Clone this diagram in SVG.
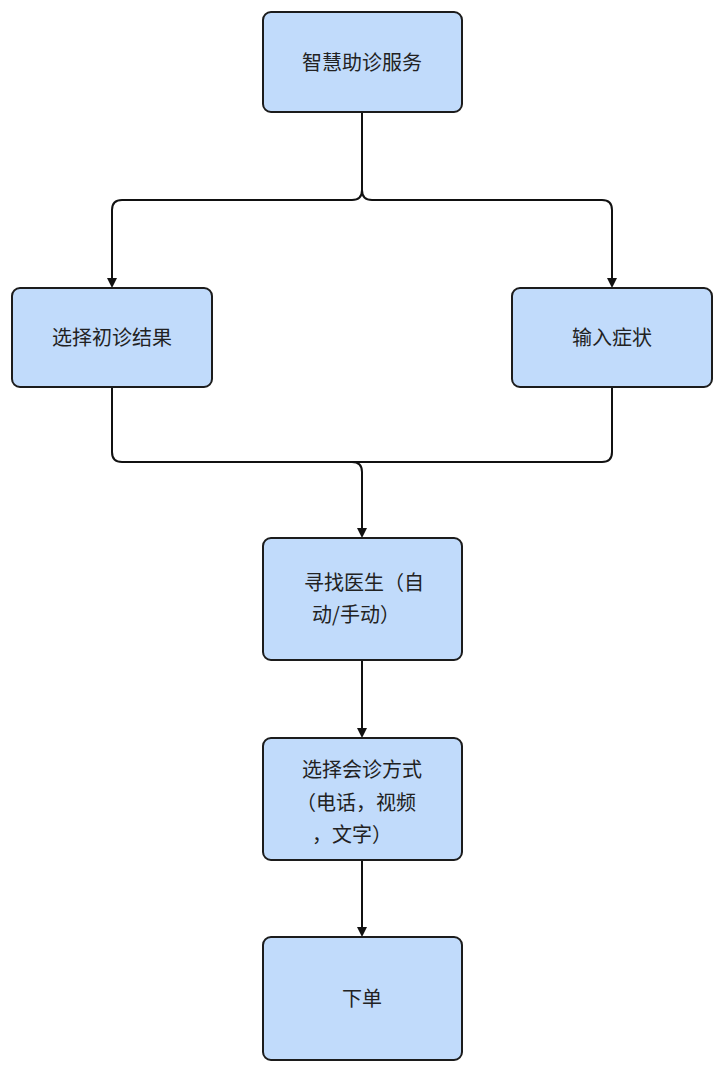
<svg xmlns="http://www.w3.org/2000/svg" width="725" height="1072" viewBox="0 0 725 1072">
<style>
.n{fill:#c1dbfb;stroke:#1c1c1c;stroke-width:2}
.t{font-family:"Noto Sans CJK SC","Noto Sans",sans-serif;font-size:20px;fill:#222;text-anchor:middle}
.c{fill:none;stroke:#111;stroke-width:2}
</style>
<defs><marker id="a" markerWidth="10" markerHeight="10" refX="8" refY="5" orient="auto" markerUnits="userSpaceOnUse"><path d="M0,0L10,5L0,10Z" fill="#111"/></marker></defs>
<rect width="725" height="1072" fill="#fff"/>
<g id="connectors">
<path class="c" d="M362,112V190Q362,200 352,200H122Q112,200 112,210V286" marker-end="url(#a)"/>
<path class="c" d="M362,190Q362,200 372,200H602Q612,200 612,210V286" marker-end="url(#a)"/>
<path class="c" d="M112,387V452Q112,462 122,462H602Q612,462 612,452V387"/>
<path class="c" d="M352,462Q362,462 362,472V536" marker-end="url(#a)"/>
<path class="c" d="M362,660V736" marker-end="url(#a)"/>
<path class="c" d="M362,860V935" marker-end="url(#a)"/>
</g>
<g id="n1"><rect class="n" x="263" y="12" width="199" height="100" rx="8"/><text class="t" x="362" y="70">智慧助诊服务</text></g>
<g id="n2"><rect class="n" x="12" y="288" width="200" height="99" rx="8"/><text class="t" x="112" y="345">选择初诊结果</text></g>
<g id="n3"><rect class="n" x="512" y="288" width="200" height="99" rx="8"/><text class="t" x="612" y="345">输入症状</text></g>
<g id="n4"><rect class="n" x="263" y="538" width="199" height="122" rx="8"/><text class="t" x="364" y="590">寻找医生（自</text><text class="t" x="356" y="622">动/手动）</text></g>
<g id="n5"><rect class="n" x="263" y="738" width="199" height="122" rx="8"/><text class="t" x="362" y="777">选择会诊方式</text><text class="t" x="356" y="810">（电话，视频</text><text class="t" x="352" y="842">，文字）</text></g>
<g id="n6"><rect class="n" x="263" y="937" width="199" height="123" rx="8"/><text class="t" x="362" y="1006">下单</text></g>
</svg>
